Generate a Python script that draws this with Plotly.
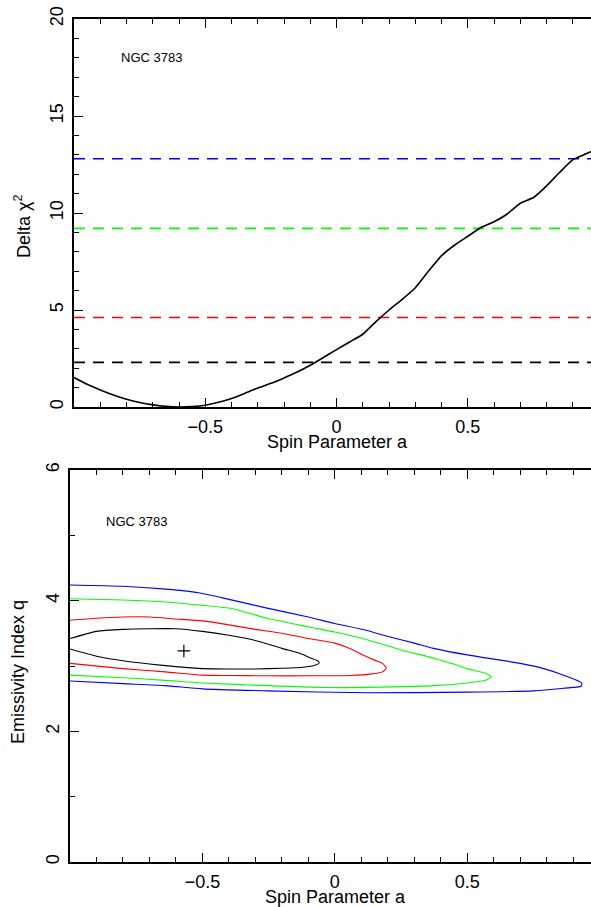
import plotly.graph_objects as go

# ---- Delta chi^2 profile versus spin ----
spin = [-1.0, -0.95, -0.9, -0.85, -0.8, -0.75, -0.7, -0.65, -0.6, -0.55,
        -0.5, -0.45, -0.4, -0.35, -0.3, -0.25, -0.2, -0.15, -0.1, -0.05,
        0.0, 0.05, 0.1, 0.15, 0.2, 0.25, 0.3, 0.35, 0.4, 0.45,
        0.5, 0.55, 0.6, 0.65, 0.7, 0.75, 0.8, 0.85, 0.9, 0.95, 1.0]
delta_chi2 = [1.52, 1.17, 0.88, 0.62, 0.40, 0.23, 0.11, 0.03, 0.0, 0.02,
              0.09, 0.24, 0.44, 0.70, 0.98, 1.22, 1.50, 1.80, 2.15, 2.55,
              2.96, 3.35, 3.75, 4.40, 5.00, 5.55, 6.15, 7.00, 7.80, 8.35,
              8.80, 9.25, 9.55, 9.95, 10.50, 10.80, 11.40, 12.10, 12.75, 13.05, 13.35]

# confidence levels (horizontal dashed lines)
levels = [2.30, 4.61, 9.21, 12.8]
level_colors = ["#000000", "#ff0000", "#00ff00", "#0000ff"]

# ---- confidence contours in the (a, q) plane ----
c1_a = [-1.0, -0.9, -0.8, -0.7, -0.6, -0.5, -0.4, -0.3, -0.2, -0.13, -0.09, -0.065, -0.059,
        -0.075, -0.12, -0.2, -0.3, -0.4, -0.5, -0.6, -0.7, -0.8, -0.9, -1.0]
c1_q = [3.42, 3.53, 3.56, 3.57, 3.57, 3.53, 3.47, 3.39, 3.27, 3.19, 3.12, 3.08, 3.05,
        3.01, 2.98, 2.965, 2.955, 2.955, 2.96, 2.99, 3.03, 3.08, 3.15, 3.26]

c2_a = [-1.0, -0.9, -0.8, -0.7, -0.6, -0.5, -0.4, -0.3, -0.2, -0.1, 0.0, 0.05, 0.1, 0.15, 0.18, 0.194,
        0.18, 0.14, 0.06, -0.1, -0.26, -0.4, -0.5, -0.64, -0.8, -1.0]
c2_q = [3.70, 3.73, 3.75, 3.75, 3.72, 3.69, 3.63, 3.56, 3.50, 3.42, 3.35, 3.28, 3.18, 3.09, 3.04, 2.97,
        2.91, 2.88, 2.855, 2.85, 2.85, 2.855, 2.86, 2.91, 2.96, 3.04]

c3_a = [-1.0, -0.8, -0.64, -0.5, -0.388, -0.256, -0.1, 0.0, 0.115, 0.247, 0.373, 0.45, 0.5, 0.568, 0.59,
        0.575, 0.5, 0.373, 0.2, 0.0, -0.256, -0.5, -0.64, -0.8, -1.0]
c3_q = [4.03, 4.01, 3.98, 3.93, 3.88, 3.73, 3.60, 3.52, 3.41, 3.25, 3.12, 3.03, 2.96, 2.89, 2.84,
        2.79, 2.74, 2.70, 2.68, 2.67, 2.70, 2.74, 2.78, 2.82, 2.86]

c4_a = [-1.0, -0.8, -0.65, -0.514, -0.4, -0.26, -0.1, 0.0, 0.115, 0.184, 0.3, 0.373, 0.5, 0.625, 0.7,
        0.789, 0.877, 0.933, 0.93, 0.864, 0.751, 0.5, 0.122, -0.256, -0.5, -0.64, -0.8, -1.0]
c4_q = [4.24, 4.22, 4.18, 4.12, 4.02, 3.89, 3.75, 3.65, 3.55, 3.47, 3.35, 3.27, 3.17, 3.09, 3.04,
        2.96, 2.84, 2.74, 2.69, 2.66, 2.62, 2.60, 2.59, 2.62, 2.65, 2.70, 2.73, 2.77]

best_a = [-0.57]
best_q = [3.23]

FONT = "Liberation Sans"
W, H = 591, 907

fig = go.Figure()

# top panel: dashed confidence levels
for lv, col in zip(levels, level_colors):
    fig.add_trace(go.Scatter(x=[-1.0, 1.0], y=[lv, lv], mode="lines",
                             line=dict(color=col, width=1.6, dash="11px,8px"),
                             xaxis="x", yaxis="y", showlegend=False, hoverinfo="skip"))
fig.add_trace(go.Scatter(x=spin, y=delta_chi2, mode="lines",
                         line=dict(color="black", width=1.6, shape="spline", smoothing=0.4),
                         xaxis="x", yaxis="y", showlegend=False))

# bottom panel: contours and best fit
for ca, cq, col in [(c1_a, c1_q, "#000000"), (c2_a, c2_q, "#ff0000"),
                    (c3_a, c3_q, "#00ff00"), (c4_a, c4_q, "#0000ff")]:
    fig.add_trace(go.Scatter(x=ca, y=cq, mode="lines",
                             line=dict(color=col, width=1.1, shape="spline", smoothing=0.6),
                             xaxis="x2", yaxis="y2", showlegend=False))
fig.add_trace(go.Scatter(x=best_a, y=best_q, mode="markers",
                         marker=dict(symbol="cross-thin", size=9,
                                     line=dict(color="black", width=1.2)),
                         xaxis="x2", yaxis="y2", showlegend=False))

def px_x(p):
    return p / W

def px_y(p):
    return 1 - p / H

tickfont = dict(family=FONT, size=18, color="black")
minor_style = dict(ticks="inside", ticklen=5, tickwidth=1.3, tickcolor="black")

# the corner tick at a = -1 carries no label
common_x = dict(showline=True, linecolor="black", linewidth=2, mirror="allticks",
                ticks="inside", ticklen=9, tickwidth=1.3, tickcolor="black",
                tickmode="linear", tick0=0, dtick=0.5,
                labelalias={"\u22121": "", "-1": ""},
                minor=dict(dtick=0.1, tick0=0, **minor_style),
                showgrid=False, zeroline=False, tickfont=tickfont, automargin=False,
                ticklabelstandoff=2)
common_y = dict(showline=True, linecolor="black", linewidth=2, mirror=False,
                ticks="inside", ticklen=9, tickwidth=1.3, tickcolor="black",
                tickmode="linear", tick0=0,
                showgrid=False, zeroline=False, tickfont=tickfont, tickangle=-90,
                automargin=False, ticklabelstandoff=2)


def label(text, x, y, size, angle=0):
    return dict(text=text, x=px_x(x), y=px_y(y), xref="paper", yref="paper",
                xanchor="center", yanchor="middle", showarrow=False, textangle=angle,
                font=dict(family=FONT, size=size, color="black"))


fig.update_layout(
    width=W, height=H,
    margin=dict(l=0, r=0, t=0, b=0),
    paper_bgcolor="white", plot_bgcolor="white",
    xaxis=dict(domain=[px_x(74), 1.0], range=[-1.0, 0.969], anchor="y", **common_x),
    yaxis=dict(domain=[px_y(407), px_y(19)], range=[0, 20], anchor="x", dtick=5,
               minor=dict(dtick=1, tick0=0, **minor_style), **common_y),
    xaxis2=dict(domain=[px_x(70), 1.0], range=[-1.0, 0.9675], anchor="y2", **common_x),
    yaxis2=dict(domain=[px_y(862), px_y(470)], range=[0, 6], anchor="x2", dtick=2,
                minor=dict(dtick=1, tick0=0, **minor_style), **common_y),
    annotations=[
        label("NGC 3783", 152, 58, 13),
        label("NGC 3783", 136, 521, 13),
        label("Spin Parameter a", 337, 442, 18),
        label("Spin Parameter a", 335, 897, 18),
        label("Delta \u03c7<sup>2</sup>", 22, 226, 18, -90),
        label("Emissivity Index q", 18, 672, 18, -90),
    ],
)

fig.write_html("out.html")
